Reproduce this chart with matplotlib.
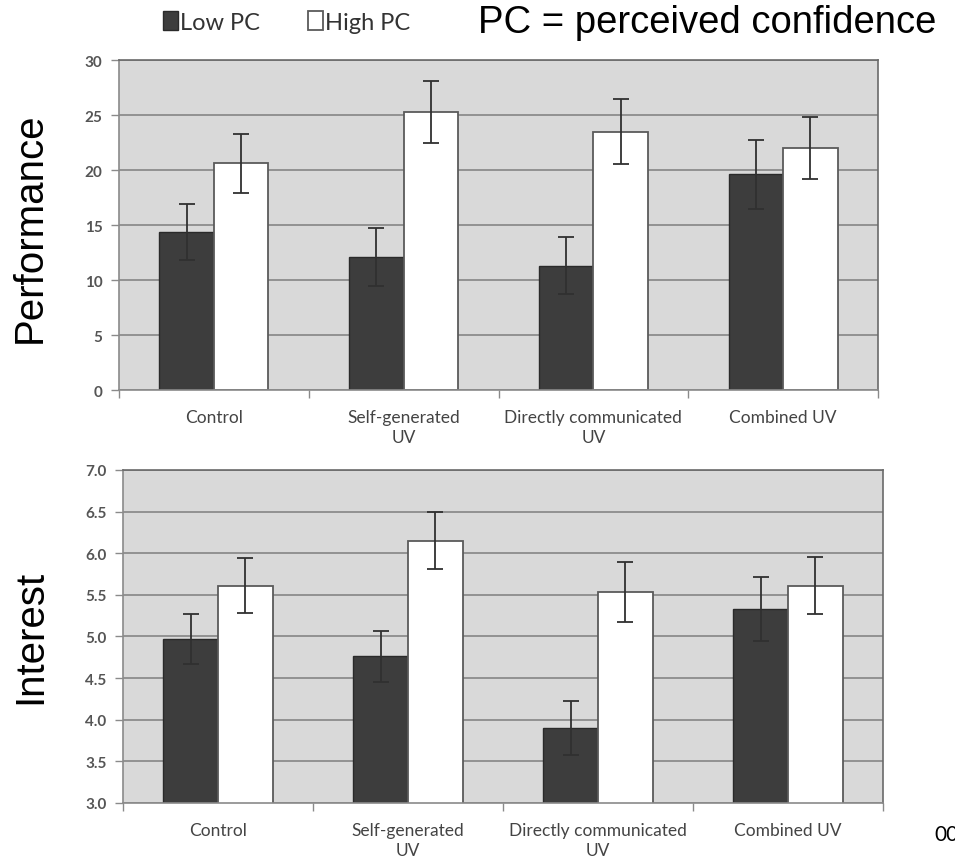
import matplotlib
matplotlib.use("Agg")
import matplotlib.pyplot as plt
import numpy as np

# Condition labels shared by both panels
categories = ["Control", "Self-generated\nUV", "Directly communicated\nUV", "Combined UV"]

# Performance (mean, error)
perf_low = [14.4, 12.1, 11.3, 19.6]
perf_low_err = [2.55, 2.6, 2.6, 3.1]
perf_high = [20.6, 25.3, 23.5, 22.0]
perf_high_err = [2.65, 2.8, 2.95, 2.8]

# Interest (mean, error)
int_low = [4.97, 4.76, 3.90, 5.33]
int_low_err = [0.30, 0.31, 0.32, 0.39]
int_high = [5.61, 6.15, 5.53, 5.61]
int_high_err = [0.33, 0.34, 0.36, 0.34]

perf_ticks = [0, 5, 10, 15, 20, 25, 30]
int_ticks = [3.0, 3.5, 4.0, 4.5, 5.0, 5.5, 6.0, 6.5, 7.0]

DARK = "#3d3d3d"
PANEL = "#d9d9d9"
GRID = "#858585"
TICKCOL = "#555555"
LABEL_FONT = "Lato"

fig = plt.figure(figsize=(9.55, 8.62), dpi=100)
fig.patch.set_facecolor("white")

ax1 = fig.add_axes([0.1246, 0.5464, 0.7948, 0.3828])
ax2 = fig.add_axes([0.1288, 0.0673, 0.7958, 0.3863])

width = 0.287


def draw_panel(ax, low, low_err, high, high_err, ticks, ylim, fmt):
    x = np.arange(len(categories))
    ax.set_facecolor(PANEL)
    ax.set_axisbelow(True)
    ax.yaxis.grid(True, color=GRID, linewidth=1.2)
    ekw = dict(ecolor="#303030", elinewidth=1.3, capthick=1.3)
    b1 = ax.bar(x - width / 2, low, width, color=DARK, edgecolor="#2a2a2a",
                linewidth=1.0, yerr=low_err, capsize=6, error_kw=ekw,
                label="Low PC", zorder=2)
    b2 = ax.bar(x + width / 2, high, width, color="white", edgecolor="#5a5a5a",
                linewidth=1.3, yerr=high_err, capsize=6, error_kw=ekw,
                label="High PC", zorder=2)
    ax.set_xlim(-0.5, len(categories) - 0.5)
    ax.set_ylim(*ylim)
    ax.set_yticks(ticks)
    ax.set_yticklabels([fmt.format(t) for t in ticks])
    # Tick marks sit on the category boundaries, labels at the centres
    ax.set_xticks(np.arange(len(categories) + 1) - 0.5)
    ax.set_xticklabels([])
    ax.set_xticks(x, minor=True)
    ax.set_xticklabels(categories, minor=True, fontfamily=LABEL_FONT,
                       fontsize=12.5, color="#444444", linespacing=1.3)
    ax.tick_params(axis="x", which="minor", length=0, pad=14)
    ax.tick_params(axis="x", which="major", length=6, color="#8a8a8a", width=1.0)
    ax.tick_params(axis="y", length=6, color="#8a8a8a", width=1.0,
                   labelcolor=TICKCOL, labelsize=11, pad=6)
    for lab in ax.get_yticklabels():
        lab.set_fontfamily(LABEL_FONT)
        lab.set_fontweight("bold")
    for side in ("left", "bottom"):
        ax.spines[side].set_color("#8a8a8a")
        ax.spines[side].set_linewidth(1.2)
    for side in ("top", "right"):
        ax.spines[side].set_color("#6a6a6a")
        ax.spines[side].set_linewidth(1.2)
    return b1, b2


h1, h2 = draw_panel(ax1, perf_low, perf_low_err, perf_high, perf_high_err,
                    perf_ticks, (0, 30), "{:d}")
draw_panel(ax2, int_low, int_low_err, int_high, int_high_err,
           int_ticks, (3.0, 7.0), "{:.1f}")

# Panel titles on the left, rotated
fig.text(30 / 955, 1 - 228 / 862, "Performance", fontfamily="Liberation Sans",
         fontsize=29, rotation=90, ha="center", va="center")
fig.text(30 / 955, 1 - 637 / 862, "Interest", fontfamily="Liberation Sans",
         fontsize=29, rotation=90, ha="center", va="center")

leg = fig.legend(handles=[h1, h2], labels=["Low PC", "High PC"],
                 loc="center left", bbox_to_anchor=(0.148, 0.973), ncol=2,
                 frameon=False, handlelength=0.65, handleheight=0.85,
                 handletextpad=0.1, columnspacing=2.0,
                 prop={"family": LABEL_FONT, "size": 17})
for t in leg.get_texts():
    t.set_color("#333333")

fig.text(0.5, 0.973, "PC = perceived confidence", fontfamily="Liberation Sans",
         fontsize=27.5, va="center", ha="left", color="black")

fig.text(0.978, 0.031, "00", fontfamily=LABEL_FONT, fontsize=15,
         va="center", ha="left", color="black")

fig.savefig("out.png", dpi=100)
